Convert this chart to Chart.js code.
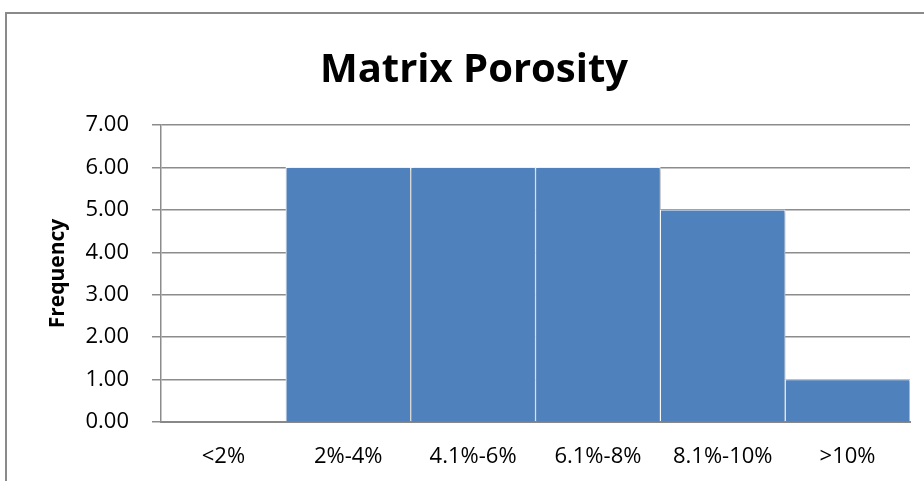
<!DOCTYPE html>
<html>
<head>
<meta charset="utf-8">
<script src="https://cdn.jsdelivr.net/npm/chart.js@4/dist/chart.umd.min.js"></script>
<style>
  body { margin: 0; background: #fff; }
  #wrap { position: relative; width: 924px; height: 481px; }
</style>
</head>
<body>
<div id="wrap"><canvas id="myChart" width="924" height="481"></canvas></div>
<script>
// porosity classes and how many samples fall in each
const classes = ['<2%', '2%-4%', '4.1%-6%', '6.1%-8%', '8.1%-10%', '>10%']
const frequency = [0, 6, 6, 6, 5, 1]
const yTicks = [0, 1, 2, 3, 4, 5, 6, 7]

const gridGrey = '#8c8c8c'

// white background and the grey frame round the chart
const frame = {
  id: 'frame',
  beforeDraw(chart) {
    const ctx = chart.ctx
    ctx.save()
    ctx.fillStyle = '#fff'
    ctx.fillRect(0, 0, chart.width, chart.height)
    ctx.strokeStyle = '#8a8a8a'
    ctx.lineWidth = 2
    ctx.strokeRect(6, 13, chart.width + 20, chart.height + 20)
    ctx.restore()
  }
}

// soft drop shadow under the bars
const barShadow = {
  id: 'barShadow',
  beforeDatasetsDraw(chart) {
    const ctx = chart.ctx
    ctx.save()
    ctx.shadowColor = 'rgba(0,0,0,0.35)'
    ctx.shadowBlur = 3
    ctx.shadowOffsetX = 1
    ctx.shadowOffsetY = 1
  },
  afterDatasetsDraw(chart) {
    chart.ctx.restore()
  }
}

function drawchart() {
  new Chart(document.getElementById('myChart'), {
    type: 'bar',
    data: {
      labels: classes,
      datasets: [
        {
          label: 'Frequency',
          data: frequency,
          backgroundColor: '#4f81bd',
          borderColor: '#ffffff',
          borderWidth: 1,
          borderSkipped: 'start',
          categoryPercentage: 1,
          barPercentage: 1
        }
      ]
    },
    options: {
      responsive: false,
      animation: false,
      layout: { padding: { left: 38, right: 14, top: 0, bottom: 0 } },
      plugins: {
        legend: { display: false },
        tooltip: { enabled: false },
        title: {
          display: true,
          text: 'Matrix Porosity',
          color: '#000',
          font: { family: 'Open Sans', size: 40, weight: 'bold' },
          padding: { top: 47, bottom: 30 }
        }
      },
      scales: {
        x: {
          z: 1,
          grid: { display: false, drawTicks: false },
          border: { display: true, color: '#888', width: 2 },
          ticks: {
            color: '#000',
            font: { family: 'Open Sans', size: 22 },
            padding: 22,
            maxRotation: 0
          },
          afterFit(scale) { scale.height = 59 }
        },
        y: {
          min: 0,
          max: 7,
          afterBuildTicks(scale) { scale.ticks = yTicks.map(v => ({ value: v })) },
          grid: { color: gridGrey, lineWidth: 1.5, tickLength: 9 },
          border: { color: gridGrey, width: 1.5 },
          ticks: {
            color: '#000',
            font: { family: 'Open Sans', size: 22 },
            padding: 23,
            callback: v => v.toFixed(2)
          },
          title: {
            display: true,
            text: 'Frequency',
            color: '#000',
            font: { family: 'Open Sans', size: 21, weight: 'bold' },
            padding: { top: 7, bottom: 0 }
          },
          afterFit(scale) { scale.width = 123 }
        }
      }
    },
    plugins: [frame, barShadow]
  })
}

drawchart()
</script>
</body>
</html>
